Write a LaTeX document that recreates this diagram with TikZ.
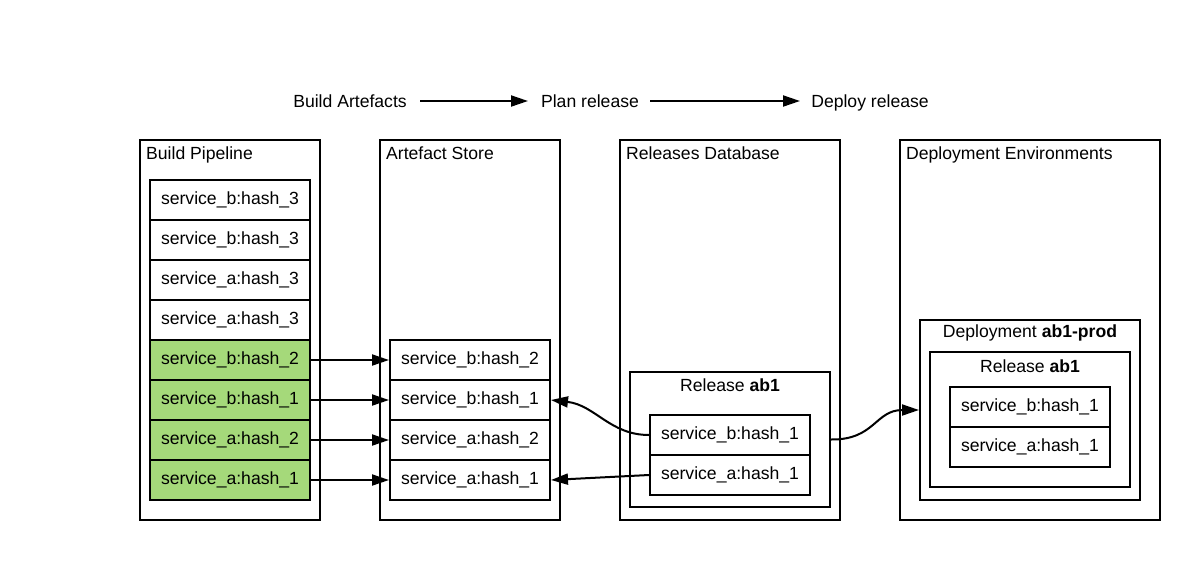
\documentclass[tikz,border=0pt]{standalone}
\usepackage{fontspec}
\setmainfont{Liberation Sans}
\usetikzlibrary{arrows.meta}
\definecolor{boxgreen}{HTML}{A5D97A}
\begin{document}
\begin{tikzpicture}[x=1pt,y=-1pt,
  lbl/.style={font=\fontsize{17.6}{21}\selectfont, inner sep=0pt},
  frame/.style={draw, line width=2pt, inner sep=0pt},
  item/.style={draw, line width=2pt, inner sep=0pt, minimum width=160pt, minimum height=40pt, font=\fontsize{17.6}{21}\selectfont},
  gitem/.style={item, fill=boxgreen},
  conn/.style={line width=2pt, -{Triangle[length=17pt,width=11pt]}},
]
\useasboundingbox (0,0) rectangle (1200,560);
% header
\node[lbl, anchor=base] (hba) at (350,107.5) {Build Artefacts};
\node[lbl, anchor=base] (hpr) at (590,107.5) {Plan release};
\node[lbl, anchor=base] (hdr) at (870,107.5) {Deploy release};
\coordinate (ha1) at (420,101);
\coordinate (ha2) at (528,101);
\coordinate (hb1) at (650,101);
\coordinate (hb2) at (800,101);
\draw[conn] (ha1) -- (ha2);
\draw[conn] (hb1) -- (hb2);

% containers
\node[frame, minimum width=180pt, minimum height=380pt] (bp) at (230,330) {};
\node[frame, minimum width=180pt, minimum height=380pt] (as) at (470,330) {};
\node[frame, minimum width=220pt, minimum height=380pt] (rd) at (730,330) {};
\node[frame, minimum width=260pt, minimum height=380pt] (de) at (1030,330) {};
\node[lbl, anchor=base west] (bpt) at (146,159) {Build Pipeline};
\node[lbl, anchor=base west] (ast) at (386,159) {Artefact Store};
\node[lbl, anchor=base west] (rdt) at (626,159) {Releases Database};
\node[lbl, anchor=base west] (det) at (906,159) {Deployment Environments};

% build pipeline items
\node[item] (b1) at (230,200) {service\_b:hash\_3};
\node[item] (b2) at (230,240) {service\_b:hash\_3};
\node[item] (b3) at (230,280) {service\_a:hash\_3};
\node[item] (b4) at (230,320) {service\_a:hash\_3};
\node[gitem] (b5) at (230,360) {service\_b:hash\_2};
\node[gitem] (b6) at (230,400) {service\_b:hash\_1};
\node[gitem] (b7) at (230,440) {service\_a:hash\_2};
\node[gitem] (b8) at (230,480) {service\_a:hash\_1};

% artefact store items
\node[item] (s1) at (470,360) {service\_b:hash\_2};
\node[item] (s2) at (470,400) {service\_b:hash\_1};
\node[item] (s3) at (470,440) {service\_a:hash\_2};
\node[item] (s4) at (470,480) {service\_a:hash\_1};

\draw[conn] (b5.east) -- (s1.west);
\draw[conn] (b6.east) -- (s2.west);
\draw[conn] (b7.east) -- (s3.west);
\draw[conn] (b8.east) -- (s4.west);

% release in database
\node[frame, minimum width=200pt, minimum height=135pt] (rel) at (730,439.5) {};
\node[lbl] (relt) at (730,385) {Release \textbf{ab1}};
\node[item] (r1) at (730,435) {service\_b:hash\_1};
\node[item] (r2) at (730,475) {service\_a:hash\_1};

% deployment
\node[frame, minimum width=220pt, minimum height=180pt] (dep) at (1030,410) {};
\node[lbl] (dept) at (1030,333) {Deployment \textbf{ab1-prod}};
\node[frame, minimum width=200pt, minimum height=135pt] (drel) at (1030,419.5) {};
\node[lbl] (drelt) at (1030,366) {Release \textbf{ab1}};
\node[item] (d1) at (1030,407) {service\_b:hash\_1};
\node[item] (d2) at (1030,447) {service\_a:hash\_1};

% connectors from release
\draw[conn] (r1.west) .. controls (610,435) and (595,405) .. (s2.east);
\draw[conn] (r2.west) -- (s4.east);
\draw[conn] (rel.east) .. controls (875,440) and (875,410) .. (dep.west);
\end{tikzpicture}
\end{document}
